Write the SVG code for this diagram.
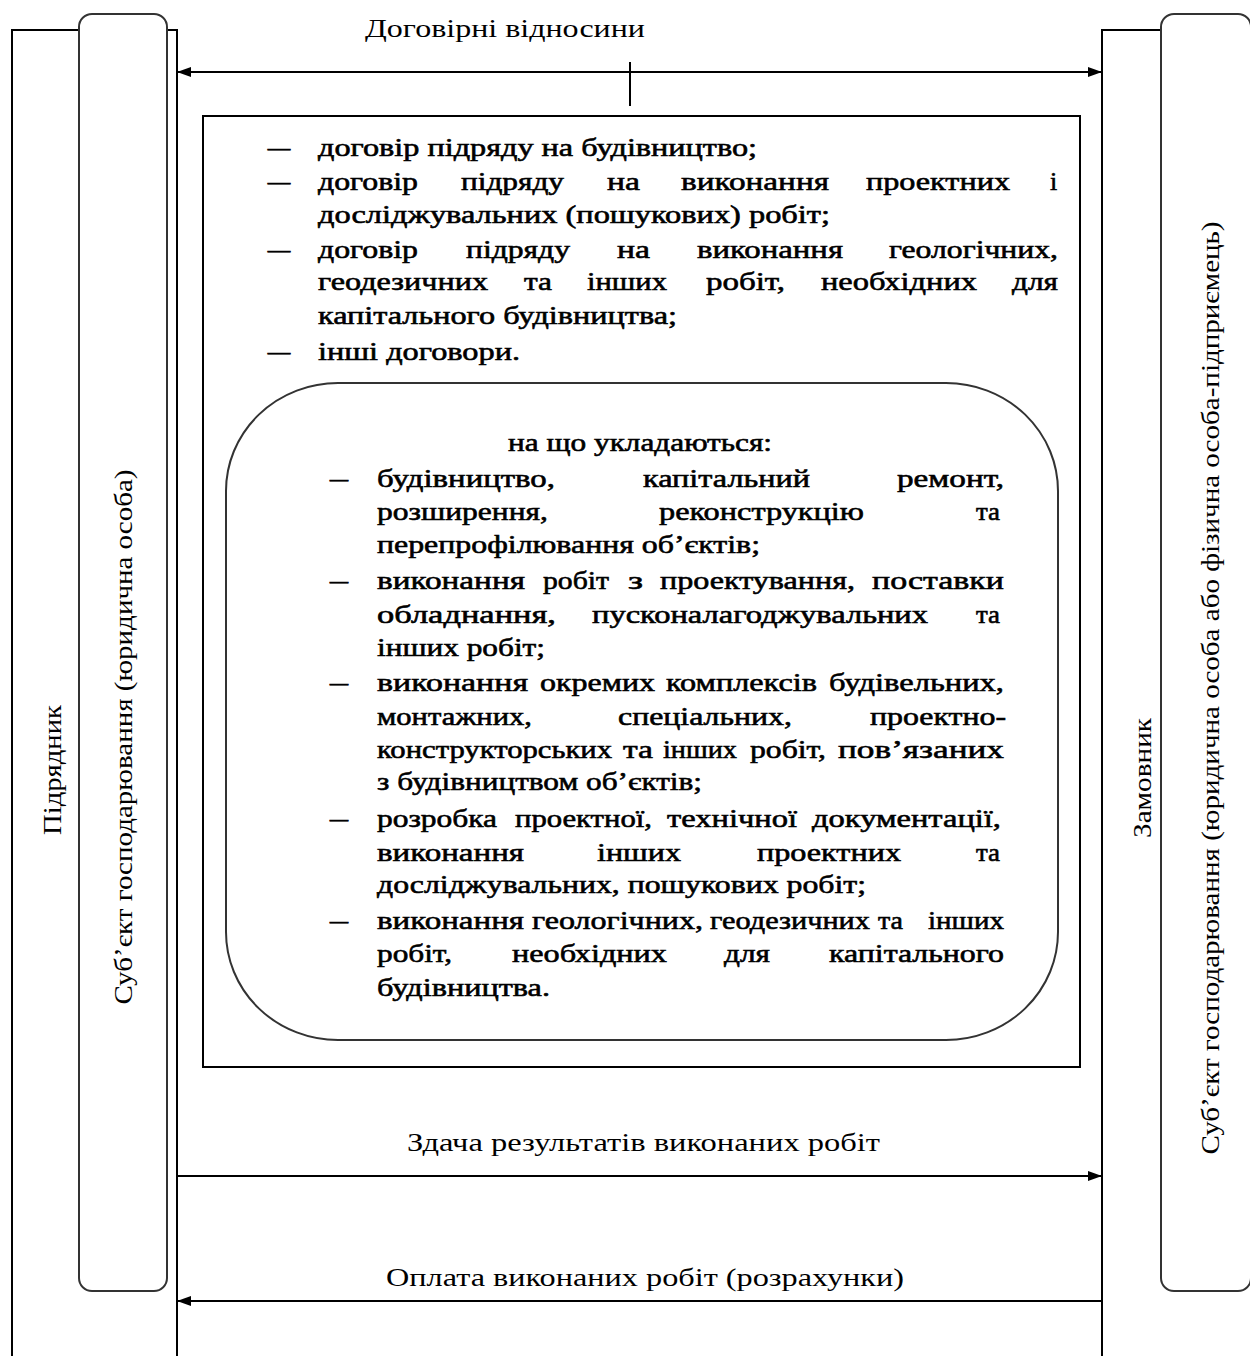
<svg xmlns="http://www.w3.org/2000/svg" width="1250" height="1356" viewBox="0 0 1250 1356">
<defs>
<marker id="arr" viewBox="0 0 14 10" markerWidth="14" markerHeight="10" refX="14" refY="5" orient="auto-start-reverse" markerUnits="userSpaceOnUse">
<path d="M0,0 L14,5 L0,10 z" fill="#000"/>
</marker>
<style>
.ln{fill:none;stroke:#000;stroke-width:2}
.rr{fill:#fff;stroke:#333;stroke-width:2}
.t{font-family:"Liberation Serif","Times New Roman",serif;font-size:26px;fill:#000}
.b{stroke:#000;stroke-width:0.6}
.m{text-anchor:middle}
</style>
</defs>
<rect width="1250" height="1356" fill="#fff"/>
<g id="contractor">
<rect class="ln" x="12" y="30" width="165" height="1400"/>
<rect class="rr" x="79" y="14" width="88" height="1277" rx="13"/>
<text class="t m" transform="translate(61,770) rotate(-90)" textLength="130" lengthAdjust="spacingAndGlyphs">Підрядник</text>
<text class="t m" transform="translate(132,737) rotate(-90)" textLength="535" lengthAdjust="spacingAndGlyphs">Суб’єкт господарювання (юридична особа)</text>
</g>
<g id="customer">
<rect class="ln" x="1102" y="30" width="200" height="1400"/>
<rect class="rr" x="1161" y="14" width="90" height="1277" rx="13"/>
<text class="t m" transform="translate(1151,778) rotate(-90)" textLength="120" lengthAdjust="spacingAndGlyphs">Замовник</text>
<text class="t m" transform="translate(1219,688) rotate(-90)" textLength="933" lengthAdjust="spacingAndGlyphs">Суб’єкт господарювання (юридична особа або фізична особа-підприємець)</text>
</g>
<g id="connectors">
<line class="ln" x1="177" y1="72" x2="1102" y2="72" marker-start="url(#arr)" marker-end="url(#arr)"/>
<line class="ln" x1="630" y1="62" x2="630" y2="106"/>
<line class="ln" x1="177" y1="1176" x2="1102" y2="1176" marker-end="url(#arr)"/>
<line class="ln" x1="1102" y1="1301" x2="177" y2="1301" marker-end="url(#arr)"/>
<text class="t" x="365" y="37" textLength="280" lengthAdjust="spacingAndGlyphs">Договірні відносини</text>
<text class="t" x="407" y="1151" textLength="473" lengthAdjust="spacingAndGlyphs">Здача результатів виконаних робіт</text>
<text class="t" x="386" y="1286" textLength="518" lengthAdjust="spacingAndGlyphs">Оплата виконаних робіт (розрахунки)</text>
</g>
<g id="contracts">
<rect class="ln" x="203" y="116" width="877" height="951"/>
<g class="t b">
<text x="268" y="156" textLength="22" lengthAdjust="spacingAndGlyphs">–</text>
<text x="318" y="156" textLength="439" lengthAdjust="spacingAndGlyphs">договір підряду на будівництво;</text>
<text x="268" y="190" textLength="22" lengthAdjust="spacingAndGlyphs">–</text>
<text x="318" y="190" textLength="100" lengthAdjust="spacingAndGlyphs">договір</text>
<text x="461" y="190" textLength="103" lengthAdjust="spacingAndGlyphs">підряду</text>
<text x="607" y="190" textLength="33" lengthAdjust="spacingAndGlyphs">на</text>
<text x="681" y="190" textLength="148" lengthAdjust="spacingAndGlyphs">виконання</text>
<text x="866" y="190" textLength="144" lengthAdjust="spacingAndGlyphs">проектних</text>
<text x="1050" y="190">і</text>
<text x="318" y="223" textLength="512" lengthAdjust="spacingAndGlyphs">досліджувальних (пошукових) робіт;</text>
<text x="268" y="258" textLength="22" lengthAdjust="spacingAndGlyphs">–</text>
<text x="318" y="258" textLength="100" lengthAdjust="spacingAndGlyphs">договір</text>
<text x="466" y="258" textLength="104" lengthAdjust="spacingAndGlyphs">підряду</text>
<text x="617" y="258" textLength="33" lengthAdjust="spacingAndGlyphs">на</text>
<text x="697" y="258" textLength="146" lengthAdjust="spacingAndGlyphs">виконання</text>
<text x="889" y="258" textLength="169" lengthAdjust="spacingAndGlyphs">геологічних,</text>
<text x="318" y="290" textLength="170" lengthAdjust="spacingAndGlyphs">геодезичних</text>
<text x="524" y="290" textLength="28" lengthAdjust="spacingAndGlyphs">та</text>
<text x="587" y="290" textLength="80" lengthAdjust="spacingAndGlyphs">інших</text>
<text x="706" y="290" textLength="79" lengthAdjust="spacingAndGlyphs">робіт,</text>
<text x="821" y="290" textLength="156" lengthAdjust="spacingAndGlyphs">необхідних</text>
<text x="1012" y="290" textLength="46" lengthAdjust="spacingAndGlyphs">для</text>
<text x="318" y="324" textLength="359" lengthAdjust="spacingAndGlyphs">капітального будівництва;</text>
<text x="268" y="360" textLength="22" lengthAdjust="spacingAndGlyphs">–</text>
<text x="318" y="360" textLength="202" lengthAdjust="spacingAndGlyphs">інші договори.</text>
</g>
</g>
<g id="subjects">
<rect class="rr" x="226" y="383" width="832" height="657" rx="112" ry="108"/>
<g class="t b">
<text x="508" y="451" textLength="264" lengthAdjust="spacingAndGlyphs">на що укладаються:</text>
<text x="330" y="487" textLength="18" lengthAdjust="spacingAndGlyphs">–</text>
<text x="377" y="487" textLength="178" lengthAdjust="spacingAndGlyphs">будівництво,</text>
<text x="643" y="487" textLength="167" lengthAdjust="spacingAndGlyphs">капітальний</text>
<text x="897" y="487" textLength="107" lengthAdjust="spacingAndGlyphs">ремонт,</text>
<text x="377" y="520" textLength="171" lengthAdjust="spacingAndGlyphs">розширення,</text>
<text x="659" y="520" textLength="205" lengthAdjust="spacingAndGlyphs">реконструкцію</text>
<text x="976" y="520" textLength="24" lengthAdjust="spacingAndGlyphs">та</text>
<text x="377" y="553" textLength="383" lengthAdjust="spacingAndGlyphs">перепрофілювання об’єктів;</text>
<text x="330" y="589" textLength="18" lengthAdjust="spacingAndGlyphs">–</text>
<text x="377" y="589" textLength="148" lengthAdjust="spacingAndGlyphs">виконання</text>
<text x="543" y="589" textLength="66" lengthAdjust="spacingAndGlyphs">робіт</text>
<text x="628" y="589" textLength="15" lengthAdjust="spacingAndGlyphs">з</text>
<text x="660" y="589" textLength="195" lengthAdjust="spacingAndGlyphs">проектування,</text>
<text x="872" y="589" textLength="132" lengthAdjust="spacingAndGlyphs">поставки</text>
<text x="377" y="623" textLength="179" lengthAdjust="spacingAndGlyphs">обладнання,</text>
<text x="592" y="623" textLength="336" lengthAdjust="spacingAndGlyphs">пусконалагоджувальних</text>
<text x="976" y="623" textLength="24" lengthAdjust="spacingAndGlyphs">та</text>
<text x="377" y="656" textLength="168" lengthAdjust="spacingAndGlyphs">інших робіт;</text>
<text x="330" y="691" textLength="18" lengthAdjust="spacingAndGlyphs">–</text>
<text x="377" y="691" textLength="151" lengthAdjust="spacingAndGlyphs">виконання</text>
<text x="540" y="691" textLength="115" lengthAdjust="spacingAndGlyphs">окремих</text>
<text x="666" y="691" textLength="151" lengthAdjust="spacingAndGlyphs">комплексів</text>
<text x="829" y="691" textLength="175" lengthAdjust="spacingAndGlyphs">будівельних,</text>
<text x="377" y="725" textLength="155" lengthAdjust="spacingAndGlyphs">монтажних,</text>
<text x="618" y="725" textLength="174" lengthAdjust="spacingAndGlyphs">спеціальних,</text>
<text x="870" y="725" textLength="136" lengthAdjust="spacingAndGlyphs">проектно-</text>
<text x="377" y="758" textLength="235" lengthAdjust="spacingAndGlyphs">конструкторських</text>
<text x="623" y="758" textLength="30" lengthAdjust="spacingAndGlyphs">та</text>
<text x="663" y="758" textLength="74" lengthAdjust="spacingAndGlyphs">інших</text>
<text x="750" y="758" textLength="76" lengthAdjust="spacingAndGlyphs">робіт,</text>
<text x="838" y="758" textLength="166" lengthAdjust="spacingAndGlyphs">пов’язаних</text>
<text x="377" y="790" textLength="325" lengthAdjust="spacingAndGlyphs">з будівництвом об’єктів;</text>
<text x="330" y="827" textLength="18" lengthAdjust="spacingAndGlyphs">–</text>
<text x="377" y="827" textLength="120" lengthAdjust="spacingAndGlyphs">розробка</text>
<text x="515" y="827" textLength="137" lengthAdjust="spacingAndGlyphs">проектної,</text>
<text x="667" y="827" textLength="130" lengthAdjust="spacingAndGlyphs">технічної</text>
<text x="812" y="827" textLength="189" lengthAdjust="spacingAndGlyphs">документації,</text>
<text x="377" y="861" textLength="147" lengthAdjust="spacingAndGlyphs">виконання</text>
<text x="597" y="861" textLength="84" lengthAdjust="spacingAndGlyphs">інших</text>
<text x="757" y="861" textLength="144" lengthAdjust="spacingAndGlyphs">проектних</text>
<text x="976" y="861" textLength="24" lengthAdjust="spacingAndGlyphs">та</text>
<text x="377" y="893" textLength="489" lengthAdjust="spacingAndGlyphs">досліджувальних, пошукових робіт;</text>
<text x="330" y="929" textLength="18" lengthAdjust="spacingAndGlyphs">–</text>
<text x="377" y="929" textLength="147" lengthAdjust="spacingAndGlyphs">виконання</text>
<text x="532" y="929" textLength="171" lengthAdjust="spacingAndGlyphs">геологічних,</text>
<text x="710" y="929" textLength="160" lengthAdjust="spacingAndGlyphs">геодезичних</text>
<text x="878" y="929" textLength="25" lengthAdjust="spacingAndGlyphs">та</text>
<text x="928" y="929" textLength="76" lengthAdjust="spacingAndGlyphs">інших</text>
<text x="377" y="962" textLength="75" lengthAdjust="spacingAndGlyphs">робіт,</text>
<text x="512" y="962" textLength="155" lengthAdjust="spacingAndGlyphs">необхідних</text>
<text x="724" y="962" textLength="46" lengthAdjust="spacingAndGlyphs">для</text>
<text x="829" y="962" textLength="175" lengthAdjust="spacingAndGlyphs">капітального</text>
<text x="377" y="996" textLength="173" lengthAdjust="spacingAndGlyphs">будівництва.</text>
</g>
</g>
</svg>
